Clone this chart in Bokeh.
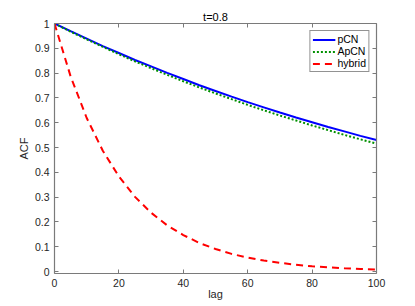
from bokeh.plotting import figure
from bokeh.models import (Range1d, LinearAxis, FixedTicker, CustomJSTickFormatter,
                          Legend, LegendItem, Title)
from bokeh.embed import file_html
from bokeh.resources import INLINE

lag = [0, 5, 10, 15, 20, 25, 30, 35, 40, 45, 50, 55, 60, 65, 70, 75, 80, 85, 90, 95, 100]
pcn = [1.000, 0.969, 0.939, 0.909, 0.881, 0.853, 0.827, 0.801, 0.776, 0.751, 0.728,
       0.705, 0.683, 0.662, 0.641, 0.621, 0.602, 0.583, 0.565, 0.547, 0.530]
apcn = [1.000, 0.967, 0.936, 0.906, 0.876, 0.847, 0.820, 0.793, 0.767, 0.742, 0.718,
        0.695, 0.672, 0.650, 0.629, 0.609, 0.589, 0.570, 0.551, 0.533, 0.516]
hybrid = [1.000, 0.787, 0.619, 0.487, 0.383, 0.301, 0.237, 0.186, 0.147, 0.115, 0.091,
          0.071, 0.056, 0.044, 0.035, 0.027, 0.021, 0.017, 0.013, 0.010, 0.008]
x_ticks = [0, 20, 40, 60, 80, 100]
y_ticks = [0, 0.1, 0.2, 0.3, 0.4, 0.5, 0.6, 0.7, 0.8, 0.9, 1]
title_text = "t=0.8"
x_label = "lag"
y_label = "ACF"

FONT = "Liberation Sans"
FS = "10.5px"
AX = "#7a7a7a"
TXT = "#262626"

p = figure(frame_width=322, frame_height=250, output_backend="svg", toolbar_location=None,
           x_range=Range1d(0, 100), y_range=Range1d(-0.008, 1), title=None,
           x_axis_location=None, y_axis_location=None,
           min_border_left=54, min_border_right=30, min_border_top=23, min_border_bottom=20)
p.outline_line_color = None
p.xgrid.visible = False
p.ygrid.visible = False
p.background_fill_color = "white"
p.border_fill_color = "white"

def style(ax, labels=True):
    ax.axis_line_color = AX
    ax.axis_line_width = 1.2
    ax.major_tick_line_color = AX
    ax.major_tick_in = 4
    ax.major_tick_out = 0
    ax.minor_tick_line_color = None
    ax.major_label_text_font = FONT
    ax.major_label_text_color = TXT
    ax.axis_label_text_font = FONT
    ax.axis_label_text_color = TXT
    ax.axis_label_text_font_style = "normal"
    ax.axis_label_text_font_size = "11px"
    if labels:
        ax.major_label_text_font_size = FS
        ax.major_label_standoff = 5
        ax.axis_label_standoff = 3
    else:
        ax.major_label_text_font_size = "0px"
        ax.major_label_standoff = 0
        ax.formatter = CustomJSTickFormatter(code="return '';")

fmt = CustomJSTickFormatter(code="return String(Math.round(tick*10)/10);")

xb = LinearAxis(ticker=FixedTicker(ticks=x_ticks), axis_label=x_label)
style(xb)
xb.axis_label_standoff = -2
p.add_layout(xb, "below")
yl = LinearAxis(ticker=FixedTicker(ticks=y_ticks), formatter=fmt, axis_label=y_label)
style(yl)
yl.axis_label_standoff = 2
p.add_layout(yl, "left")
xt = LinearAxis(ticker=FixedTicker(ticks=x_ticks))
style(xt, labels=False)
p.add_layout(xt, "above")
yr = LinearAxis(ticker=FixedTicker(ticks=y_ticks))
style(yr, labels=False)
p.add_layout(yr, "right")

t = Title(text=title_text, align="center", text_font=FONT, text_font_size="11px",
          text_font_style="normal", text_color="#000000", standoff=2)
p.add_layout(t, "above")

r1 = p.line(lag, pcn, line_color="#0000ff", line_width=2)
r2 = p.line(lag, apcn, line_color="#009000", line_width=2, line_dash="2 2")
r3 = p.line(lag, hybrid, line_color="#ff0000", line_width=2, line_dash="7 5")

leg = Legend(items=[LegendItem(label="pCN", renderers=[r1]),
                    LegendItem(label="ApCN", renderers=[r2]),
                    LegendItem(label="hybrid", renderers=[r3])],
             location="top_right", margin=7, padding=2, spacing=0,
             glyph_width=23, glyph_height=11, label_height=11, label_standoff=2,
             label_text_font=FONT, label_text_font_size=FS, label_text_color="#000000",
             border_line_color="#262626", border_line_width=1,
             background_fill_color="white", background_fill_alpha=1)
p.add_layout(leg, "center")

open("out.html", "w").write(file_html(p, INLINE))
